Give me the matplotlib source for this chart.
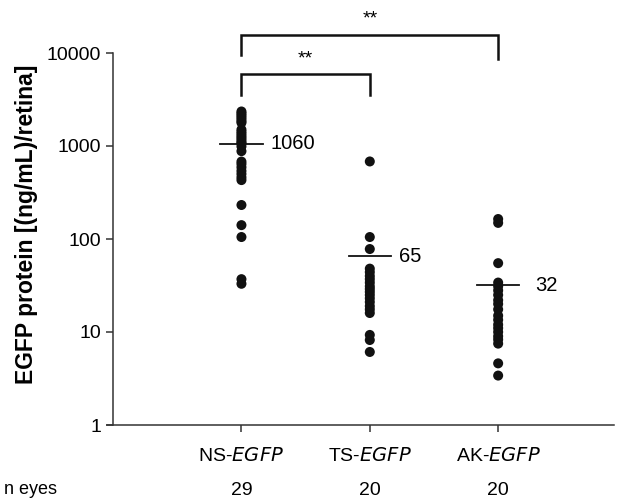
import numpy as np
import matplotlib
matplotlib.use("Agg")
import matplotlib.pyplot as plt

plt.rcParams['font.family'] = ['Liberation Sans', 'DejaVu Sans']

# Groups and per-eye EGFP protein values [(ng/mL)/retina]
groups = ["NS", "TS", "AK"]
n_eyes = [29, 20, 20]
ns_values = [2350, 2250, 2150, 2050, 1950, 1850, 1780,
             1500, 1420, 1350, 1280, 1220, 1160, 1100, 1070, 990, 880,
             680, 640, 590, 540, 500, 460, 430,
             232, 141, 105, 37, 33]
ts_values = [682, 105, 78,
             48, 44, 40, 37, 34, 31, 29, 27, 25, 23, 21, 19, 17.5, 16,
             9.3, 8.2, 6.1]
ak_values = [164, 149, 55,
             34, 31, 28, 25, 22, 20, 17.5, 15,
             13.5, 12, 11, 10, 9, 8.3, 7.5,
             4.6, 3.4]
group_means = [1060, 65, 32]

series = [ns_values, ts_values, ak_values]
x = np.arange(len(groups))

fig = plt.figure(figsize=(6.18, 5.0), dpi=100)
ax = fig.add_axes([0.183, 0.15, 0.81, 0.744])

for xi, vals in zip(x, series):
    ax.scatter(np.full(len(vals), xi), vals, s=52, color="#111111",
               edgecolors="none", zorder=3)

label_dx = [0.23, 0.23, 0.29]
for xi, m, dx in zip(x, group_means, label_dx):
    ax.plot([xi - 0.165, xi + 0.165], [m, m], color="#111111", lw=1.3, zorder=4)
    ax.text(xi + dx, m, f"{m}", fontsize=14.5, va="center", ha="left")

ax.set_yscale("log")
ax.set_ylim(1, 10000)
ax.set_xlim(-1.0, 2.9)
ax.set_yticks([1, 10, 100, 1000, 10000])
ax.set_yticklabels(["1", "10", "100", "1000", "10000"])
ax.yaxis.set_minor_locator(matplotlib.ticker.NullLocator())
ax.set_xticks(x)
ax.set_xticklabels([f"{g}-$\\it{{EGFP}}$" for g in groups])
ax.tick_params(axis="both", labelsize=14, width=1.1, length=5, color="#333333")
ax.tick_params(axis="x", pad=11)

for side in ["top", "right"]:
    ax.spines[side].set_visible(False)
for side in ["left", "bottom"]:
    ax.spines[side].set_linewidth(1.1)
    ax.spines[side].set_color("#333333")
ax.spines["bottom"].set_bounds(-1.05, 2.9)

ax.set_ylabel("EGFP protein [(ng/mL)/retina]", fontsize=16.5, fontweight="bold")
ax.yaxis.set_label_coords(-0.15, 0.54)

# n eyes row
fig.text(31 / 618, 1 - 490 / 500, "n eyes", fontsize=13, ha="center", va="center")
for xi, n in zip(x, n_eyes):
    ax.text(xi, -0.175, f"{n}", transform=ax.get_xaxis_transform(), fontsize=14,
            ha="center", va="center", clip_on=False)

# Significance brackets
def bracket(x0, x1, top, left_end, right_end, label, label_y):
    ax.plot([x0, x0, x1, x1], [left_end, top, top, right_end], color="#111111",
            lw=1.8, clip_on=False, solid_joinstyle="miter")
    ax.text((x0 + x1) / 2, label_y, label, fontsize=14, ha="center",
            va="center", clip_on=False)

bracket(0, 2, 15600, 9500, 8700, "**", 23000)
bracket(0, 1, 5940, 3530, 3530, "**", 8700)

fig.savefig("out.png", dpi=100)
